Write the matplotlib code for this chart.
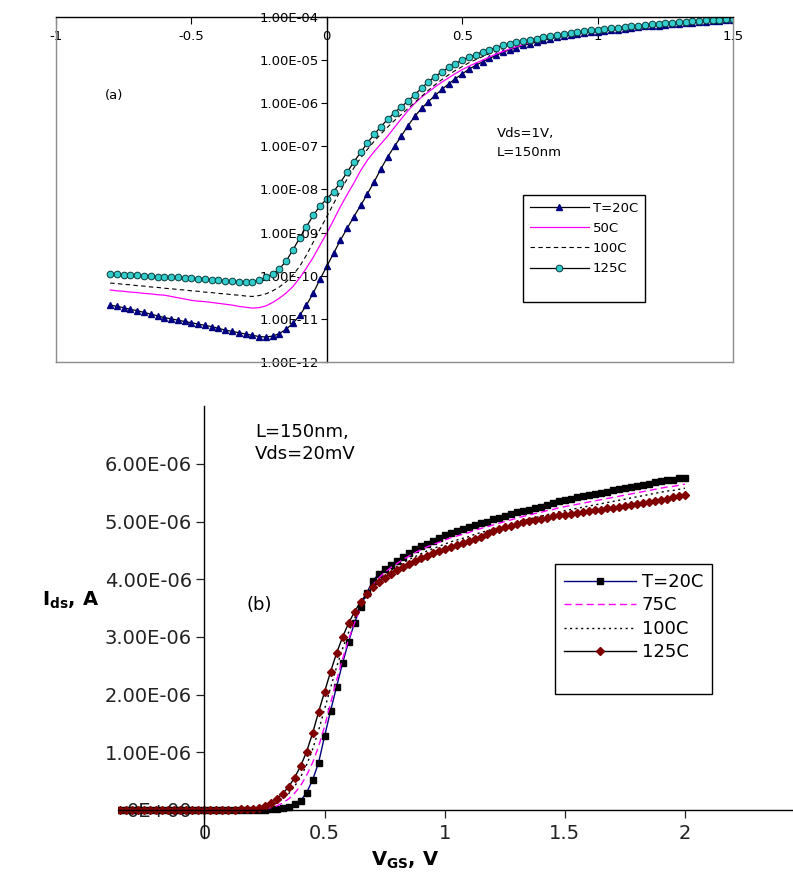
import numpy as np
import matplotlib
matplotlib.use("Agg")
import matplotlib.pyplot as plt
from matplotlib.lines import Line2D
from matplotlib.ticker import NullLocator

plt.rcParams['font.family'] = ['DejaVu Sans']

# ---------------- panel (a): log10(Ids) vs Vgs, Vds = 1 V ----------------
vgs_a = [-0.8, -0.775, -0.75, -0.725, -0.7, -0.675, -0.65, -0.625, -0.6, -0.575, -0.55,
         -0.525, -0.5, -0.475, -0.45, -0.425, -0.4, -0.375, -0.35, -0.325, -0.3,
         -0.275, -0.25, -0.225, -0.2, -0.175, -0.15, -0.125, -0.1, -0.075, -0.05, -0.025, 0.0,
         0.025, 0.05, 0.075, 0.1, 0.125, 0.15, 0.175, 0.2, 0.225, 0.25, 0.275, 0.3,
         0.325, 0.35, 0.375, 0.4, 0.425, 0.45, 0.475, 0.5, 0.525, 0.55, 0.575, 0.6,
         0.625, 0.65, 0.675, 0.7, 0.725, 0.75, 0.775, 0.8,
         0.825, 0.85, 0.875, 0.9, 0.925, 0.95, 0.975, 1.0, 1.025, 1.05, 1.075, 1.1,
         1.125, 1.15, 1.175, 1.2, 1.225, 1.25, 1.275, 1.3, 1.325, 1.35, 1.375, 1.4,
         1.425, 1.45, 1.475, 1.5]

log_ids_a_20C = [-10.68, -10.71, -10.74, -10.78, -10.81, -10.85, -10.89, -10.93, -10.97, -11.00, -11.03,
                 -11.06, -11.09, -11.12, -11.15, -11.18, -11.22, -11.26, -11.29, -11.32, -11.35,
                 -11.38, -11.41, -11.42, -11.40, -11.34, -11.24, -11.10, -10.92, -10.68, -10.40, -10.08, -9.78,
                 -9.48, -9.18, -8.90, -8.63, -8.37, -8.10, -7.82, -7.52, -7.24, -7.00, -6.76, -6.52,
                 -6.30, -6.12, -5.96, -5.82, -5.68, -5.55, -5.43, -5.32, -5.21, -5.12, -5.04, -4.96,
                 -4.89, -4.82, -4.76, -4.71, -4.66, -4.62, -4.58, -4.54,
                 -4.50, -4.47, -4.45, -4.42, -4.39, -4.37, -4.35, -4.34, -4.32, -4.30, -4.29, -4.27,
                 -4.25, -4.24, -4.22, -4.21, -4.20, -4.18, -4.17, -4.16, -4.14, -4.13, -4.12, -4.11,
                 -4.10, -4.09, -4.08, -4.07]

log_ids_a_50C = [-10.33, -10.35, -10.36, -10.38, -10.39, -10.41, -10.42, -10.44, -10.45, -10.48, -10.51,
                 -10.54, -10.57, -10.59, -10.60, -10.62, -10.64, -10.66, -10.68, -10.71, -10.73,
                 -10.75, -10.74, -10.70, -10.62, -10.52, -10.40, -10.25, -10.05, -9.82, -9.57, -9.29, -9.01,
                 -8.71, -8.40, -8.12, -7.85, -7.56, -7.32, -7.12, -6.94, -6.76, -6.56, -6.36, -6.17,
                 -6.00, -5.86, -5.74, -5.62, -5.51, -5.41, -5.31, -5.22, -5.14, -5.07, -5.00, -4.93,
                 -4.86, -4.80, -4.74, -4.69, -4.64, -4.59, -4.55, -4.51,
                 -4.48, -4.45, -4.43, -4.41, -4.38, -4.36, -4.34, -4.33, -4.31, -4.29, -4.28, -4.26,
                 -4.24, -4.23, -4.21, -4.20, -4.19, -4.17, -4.16, -4.15, -4.13, -4.12, -4.11, -4.10,
                 -4.09, -4.08, -4.07, -4.06]

log_ids_a_100C = [-10.17, -10.18, -10.20, -10.21, -10.23, -10.24, -10.26, -10.27, -10.29, -10.30, -10.32,
                  -10.33, -10.35, -10.36, -10.38, -10.39, -10.41, -10.42, -10.44, -10.45, -10.47,
                  -10.48, -10.46, -10.42, -10.35, -10.26, -10.14, -9.98, -9.78, -9.52, -9.22, -8.92, -8.63,
                  -8.33, -8.03, -7.76, -7.50, -7.27, -7.07, -6.88, -6.71, -6.55, -6.40, -6.26, -6.12,
                  -5.98, -5.84, -5.70, -5.57, -5.45, -5.34, -5.24, -5.15, -5.06, -4.99, -4.92, -4.85,
                  -4.79, -4.73, -4.68, -4.64, -4.60, -4.56, -4.53, -4.50,
                  -4.47, -4.44, -4.42, -4.40, -4.37, -4.35, -4.33, -4.32, -4.30, -4.28, -4.27, -4.25,
                  -4.23, -4.22, -4.20, -4.19, -4.18, -4.16, -4.15, -4.14, -4.12, -4.11, -4.10, -4.09,
                  -4.08, -4.07, -4.06, -4.05]

log_ids_a_125C = [-9.96, -9.97, -9.98, -9.98, -9.99, -10.00, -10.01, -10.02, -10.03, -10.03, -10.04,
                  -10.05, -10.06, -10.07, -10.08, -10.09, -10.10, -10.12, -10.13, -10.14, -10.15,
                  -10.14, -10.10, -10.04, -9.96, -9.84, -9.66, -9.40, -9.12, -8.86, -8.60, -8.38, -8.22,
                  -8.05, -7.84, -7.60, -7.36, -7.14, -6.92, -6.72, -6.54, -6.37, -6.22, -6.08, -5.95,
                  -5.80, -5.65, -5.50, -5.38, -5.27, -5.17, -5.08, -5.00, -4.93, -4.87, -4.81, -4.76,
                  -4.71, -4.66, -4.62, -4.59, -4.56, -4.53, -4.50, -4.47,
                  -4.45, -4.42, -4.40, -4.38, -4.35, -4.33, -4.31, -4.30, -4.28, -4.26, -4.25, -4.23,
                  -4.21, -4.20, -4.18, -4.17, -4.16, -4.14, -4.13, -4.12, -4.11, -4.10, -4.09, -4.08,
                  -4.07, -4.06, -4.05, -4.04]

labels_a = ["T=20C", "50C", "100C", "125C"]
xticks_a = [-1, -0.5, 0, 0.5, 1, 1.5]
xticklabels_a = ["-1", "-0.5", "0", "0.5", "1", "1.5"]
yticks_a = [1e-12, 1e-11, 1e-10, 1e-9, 1e-8, 1e-7, 1e-6, 1e-5, 1e-4]
yticklabels_a = ["1.00E-12", "1.00E-11", "1.00E-10", "1.00E-09", "1.00E-08",
                 "1.00E-07", "1.00E-06", "1.00E-05", "1.00E-04"]

# ---------------- panel (b): Ids (uA) vs Vgs, Vds = 20 mV ----------------
vgs_b = [-0.35, -0.325, -0.3, -0.275, -0.25, -0.225, -0.2, -0.175, -0.15, -0.125, -0.1, -0.075,
         -0.05, -0.025, 0.0, 0.025, 0.05, 0.075, 0.1, 0.125, 0.15, 0.175, 0.2,
         0.225, 0.25, 0.275, 0.3, 0.325, 0.35, 0.375, 0.4, 0.425, 0.45, 0.475, 0.5,
         0.525, 0.55, 0.575, 0.6, 0.625, 0.65, 0.675, 0.7,
         0.725, 0.75, 0.775, 0.8, 0.825, 0.85, 0.875, 0.9, 0.925, 0.95, 0.975, 1.0,
         1.025, 1.05, 1.075, 1.1, 1.125, 1.15, 1.175, 1.2, 1.225, 1.25, 1.275, 1.3,
         1.325, 1.35, 1.375, 1.4, 1.425, 1.45, 1.475, 1.5, 1.525, 1.55, 1.575, 1.6,
         1.625, 1.65, 1.675, 1.7, 1.725, 1.75, 1.775, 1.8, 1.825, 1.85, 1.875, 1.9,
         1.925, 1.95, 1.975, 2.0]

ids_b_20C = [0.0, 0.0, 0.0, 0.0, 0.0, 0.0, 0.0, 0.0, 0.0, 0.0, 0.0, 0.0,
             0.0, 0.0, 0.0, 0.0, 0.0, 0.0, 0.0, 0.0, 0.0, 0.0, 0.0,
             0.0, 0.005, 0.01, 0.02, 0.04, 0.06, 0.10, 0.16, 0.30, 0.52, 0.82, 1.28,
             1.72, 2.14, 2.55, 2.92, 3.25, 3.52, 3.76, 3.97,
             4.09, 4.18, 4.25, 4.32, 4.39, 4.46, 4.52, 4.57, 4.62, 4.67, 4.72, 4.76,
             4.80, 4.84, 4.87, 4.90, 4.94, 4.97, 5.00, 5.04, 5.07, 5.10, 5.13, 5.16,
             5.19, 5.21, 5.24, 5.26, 5.29, 5.32, 5.35, 5.38, 5.40, 5.42, 5.44, 5.46,
             5.48, 5.50, 5.52, 5.54, 5.56, 5.58, 5.60, 5.62, 5.64, 5.66, 5.68, 5.70,
             5.72, 5.73, 5.75, 5.76]

ids_b_75C = [0.0, 0.0, 0.0, 0.0, 0.0, 0.0, 0.0, 0.0, 0.0, 0.0, 0.0, 0.0,
             0.0, 0.0, 0.0, 0.0, 0.0, 0.0, 0.0, 0.0, 0.0, 0.0, 0.0,
             0.01, 0.02, 0.04, 0.07, 0.12, 0.19, 0.29, 0.42, 0.60, 0.82, 1.10, 1.45,
             1.85, 2.25, 2.62, 2.96, 3.25, 3.50, 3.72, 3.90,
             4.02, 4.12, 4.20, 4.27, 4.34, 4.40, 4.46, 4.51, 4.56, 4.60, 4.64, 4.68,
             4.72, 4.75, 4.78, 4.81, 4.85, 4.88, 4.91, 4.94, 4.97, 5.00, 5.03, 5.06,
             5.09, 5.11, 5.14, 5.16, 5.19, 5.21, 5.24, 5.26, 5.28, 5.30, 5.32, 5.34,
             5.36, 5.38, 5.40, 5.42, 5.44, 5.46, 5.48, 5.50, 5.52, 5.54, 5.56, 5.58,
             5.60, 5.61, 5.63, 5.65]

ids_b_100C = [0.0, 0.0, 0.0, 0.0, 0.0, 0.0, 0.0, 0.0, 0.0, 0.0, 0.0, 0.0,
              0.0, 0.0, 0.0, 0.0, 0.0, 0.0, 0.0, 0.0, 0.0, 0.0, 0.01,
              0.02, 0.04, 0.07, 0.12, 0.19, 0.28, 0.41, 0.57, 0.78, 1.05, 1.38, 1.75,
              2.12, 2.48, 2.80, 3.08, 3.32, 3.54, 3.72, 3.87,
              3.98, 4.07, 4.15, 4.22, 4.28, 4.34, 4.39, 4.44, 4.49, 4.53, 4.57, 4.61,
              4.65, 4.68, 4.71, 4.74, 4.78, 4.81, 4.84, 4.87, 4.90, 4.93, 4.96, 4.99,
              5.02, 5.04, 5.07, 5.09, 5.12, 5.14, 5.17, 5.19, 5.21, 5.23, 5.25, 5.27,
              5.29, 5.31, 5.33, 5.35, 5.37, 5.39, 5.41, 5.43, 5.45, 5.47, 5.49, 5.51,
              5.53, 5.54, 5.56, 5.58]

ids_b_125C = [0.0, 0.0, 0.0, 0.0, 0.0, 0.0, 0.0, 0.0, 0.0, 0.0, 0.0, 0.0,
              0.0, 0.0, 0.0, 0.0, 0.0, 0.0, 0.0, 0.005, 0.01, 0.015, 0.025,
              0.04, 0.07, 0.12, 0.19, 0.28, 0.40, 0.56, 0.76, 1.01, 1.33, 1.70, 2.05,
              2.40, 2.72, 3.00, 3.24, 3.44, 3.61, 3.75, 3.86,
              3.95, 4.03, 4.10, 4.16, 4.22, 4.27, 4.32, 4.37, 4.41, 4.45, 4.49, 4.53,
              4.56, 4.60, 4.63, 4.66, 4.70, 4.74, 4.78, 4.83, 4.87, 4.90, 4.93, 4.96,
              4.99, 5.01, 5.03, 5.05, 5.07, 5.09, 5.11, 5.12, 5.14, 5.15, 5.17, 5.18,
              5.20, 5.21, 5.23, 5.24, 5.26, 5.27, 5.29, 5.30, 5.32, 5.34, 5.36, 5.38,
              5.40, 5.42, 5.44, 5.46]

labels_b = ["T=20C", "75C", "100C", "125C"]
xticks_b = [0, 0.5, 1, 1.5, 2]
xticklabels_b = ["0", "0.5", "1", "1.5", "2"]
yticks_b = [0, 1e-6, 2e-6, 3e-6, 4e-6, 5e-6, 6e-6]
yticklabels_b = ["0E+00", "1.00E-06", "2.00E-06", "3.00E-06", "4.00E-06", "5.00E-06", "6.00E-06"]

W, H = 793, 880
fig = plt.figure(figsize=(W / 100, H / 100), dpi=100)

# ======================= panel (a) =======================
axa = fig.add_axes([56 / W, 1 - 362 / H, (733 - 56) / W, (362 - 17) / H])
axa.set_yscale('log')
axa.set_xlim(-1, 1.5)
axa.set_ylim(1e-12, 1e-4)

la1, = axa.plot(vgs_a, 10.0 ** np.array(log_ids_a_20C), color='black', lw=0.9,
                marker='^', ms=3.8, mfc='#000080', mec='#000080', label=labels_a[0])
la2, = axa.plot(vgs_a, 10.0 ** np.array(log_ids_a_50C), color='#FF00FF', lw=0.9,
                label=labels_a[1])
la3, = axa.plot(vgs_a, 10.0 ** np.array(log_ids_a_100C), color='black', lw=0.8,
                ls=(0, (4, 3)), label=labels_a[2])
la4, = axa.plot(vgs_a, 10.0 ** np.array(log_ids_a_125C), color='black', lw=0.9,
                marker='o', ms=4.8, mfc='#33CCCC', mec='#0B3B3B', mew=0.7, label=labels_a[3])

for s in ['bottom', 'right']:
    axa.spines[s].set_color('#8C8C8C')
    axa.spines[s].set_linewidth(1.0)
axa.spines['top'].set_color('black')
axa.spines['top'].set_linewidth(1.0)
axa.spines['left'].set_position(('data', 0))
axa.spines['left'].set_color('black')
axa.spines['left'].set_linewidth(1.0)
axa.plot([0, 0], [0, 1], transform=axa.transAxes, color='#8C8C8C', lw=1.0, clip_on=False)

axa.xaxis.set_ticks_position('top')
axa.set_xticks(xticks_a)
axa.set_xticklabels(xticklabels_a)
axa.tick_params(axis='x', which='both', direction='in', length=5, width=0.8,
                top=True, bottom=False, labeltop=True, labelbottom=False,
                pad=-19, labelsize=9.5, colors='black')
axa.set_yticks(yticks_a)
axa.set_yticklabels(yticklabels_a)
axa.yaxis.set_minor_locator(NullLocator())
axa.tick_params(axis='y', which='major', direction='out', length=4, width=0.8,
                pad=2, labelsize=9.5)

fig.text(105 / W, 1 - 95 / H, "(a)", fontsize=9.5, va='center', ha='left')
fig.text(497 / W, 1 - 143 / H, "Vds=1V,\nL=150nm", fontsize=9.5, va='center', ha='left',
         linespacing=1.5)

blank_a = Line2D([], [], color='none')
lega = fig.legend([la1, la2, la3, la4, blank_a], labels_a + [" "], loc='upper left',
                  bbox_to_anchor=(523 / W, 1 - 195 / H), bbox_transform=fig.transFigure,
                  fontsize=9.5, frameon=True, fancybox=False, edgecolor='black',
                  framealpha=1, handlelength=4.5, handletextpad=0.3, borderpad=0.5,
                  labelspacing=0.55, borderaxespad=0, numpoints=1)
lega.get_frame().set_linewidth(1.0)

# ======================= panel (b) =======================
axb = fig.add_axes([118 / W, 0.0481, (W - 118) / W, 0.4902])
axb.set_xlim(-0.36, 2.45)
axb.set_ylim(-0.48e-6, 7.0e-6)

lb1, = axb.plot(vgs_b, np.array(ids_b_20C) * 1e-6, color='#000080', lw=1.0,
                marker='s', ms=3.8, mfc='black', mec='black', label=labels_b[0])
lb2, = axb.plot(vgs_b, np.array(ids_b_75C) * 1e-6, color='#FF00FF', lw=1.0,
                ls=(0, (5, 3)), label=labels_b[1])
lb3, = axb.plot(vgs_b, np.array(ids_b_100C) * 1e-6, color='black', lw=1.0,
                ls=(0, (1.5, 2.5)), label=labels_b[2])
lb4, = axb.plot(vgs_b, np.array(ids_b_125C) * 1e-6, color='black', lw=1.0,
                marker='D', ms=4.4, mfc='#800000', mec='#800000', label=labels_b[3])

axb.spines['top'].set_visible(False)
axb.spines['right'].set_visible(False)
axb.spines['left'].set_position(('data', 0))
axb.spines['bottom'].set_position(('data', 0))
for s in ['left', 'bottom']:
    axb.spines[s].set_color('black')
    axb.spines[s].set_linewidth(1.0)

axb.set_xticks(xticks_b)
axb.set_xticklabels(xticklabels_b)
axb.set_yticks(yticks_b)
axb.set_yticklabels(yticklabels_b)
axb.tick_params(axis='both', direction='out', length=6, width=0.9, labelsize=14,
                colors='#222222')
axb.tick_params(axis='x', pad=4)
axb.tick_params(axis='y', pad=3)

fig.text(42 / W, 1 - 600 / H, r'$\mathbf{I}_{\mathbf{ds}}$, A', fontsize=14,
         fontweight='bold', va='center', ha='left')
fig.text(405 / W, 1 - 860 / H, r'$\mathbf{V}_{\mathbf{GS}}$, V', fontsize=14,
         fontweight='bold', va='center', ha='center')
fig.text(255 / W, 1 - 443 / H, "L=150nm,\nVds=20mV", fontsize=13, va='center', ha='left',
         linespacing=1.3)
fig.text(247 / W, 1 - 605 / H, "(b)", fontsize=13, va='center', ha='left')

blank_b = Line2D([], [], color='none')
legb = fig.legend([lb1, lb2, lb3, lb4, blank_b], labels_b + [" "], loc='upper left',
                  bbox_to_anchor=(555 / W, 1 - 564 / H), bbox_transform=fig.transFigure,
                  fontsize=13, frameon=True, fancybox=False, edgecolor='black',
                  framealpha=1, handlelength=4.0, handletextpad=0.3, borderpad=0.5,
                  labelspacing=0.3, borderaxespad=0, numpoints=1)
legb.get_frame().set_linewidth(1.0)

fig.savefig("out.png", dpi=100)
